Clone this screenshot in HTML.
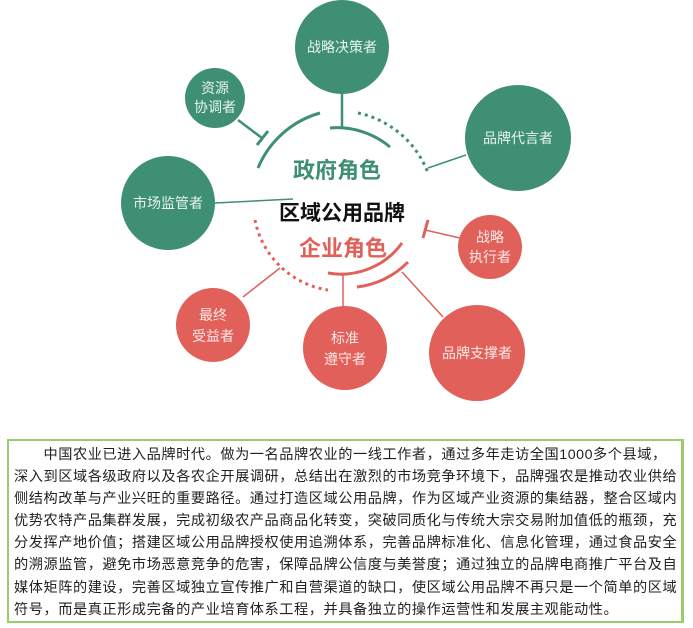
<!DOCTYPE html>
<html><head><meta charset="utf-8"><style>
html,body{margin:0;padding:0;background:#fff;width:693px;height:628px;overflow:hidden;position:relative;font-family:"Liberation Sans","Noto Sans CJK SC",sans-serif;}
svg{position:absolute;left:0;top:0}
.box{position:absolute;left:7px;top:439px;width:677px;height:184px;border:2px solid #9ccc6a;border-right-width:3px;box-sizing:border-box;}
.txt{position:absolute;left:14px;top:444px;font-size:14.2px;letter-spacing:0.55px;line-height:22.1px;color:#222;white-space:nowrap;}
</style></head><body>
<svg width="693" height="430" viewBox="0 0 693 430" font-family="Liberation Sans, Noto Sans CJK SC, sans-serif">
<g stroke="#3f8f74" stroke-width="2.5" fill="none">
<line x1="342" y1="94" x2="342" y2="128"/>
<line x1="238" y1="120" x2="262" y2="138"/>
<line x1="257" y1="145" x2="268" y2="131" stroke-width="3"/>
<line x1="215" y1="203" x2="293" y2="199" stroke-width="1.5"/>
<line x1="466" y1="155" x2="428" y2="168" stroke-width="1.5"/>
<path d="M258,168 A95,95 0 0 1 320,113" stroke-width="3"/>
<path d="M330,128 A82,82 0 0 1 390,147" stroke-width="3"/>
<path d="M358,113 A96,96 0 0 1 428,173" stroke-width="3" stroke-dasharray="3,4"/>
</g>
<g stroke="#e2605a" stroke-width="2.5" fill="none">
<line x1="460" y1="238" x2="425" y2="230" stroke-width="1.5"/>
<line x1="428" y1="220" x2="423" y2="238" stroke-width="3"/>
<line x1="243" y1="297" x2="280" y2="268" stroke-width="1.5"/>
<line x1="343" y1="310" x2="343" y2="273" stroke-width="1.5"/>
<line x1="443" y1="317" x2="402" y2="272" stroke-width="1.5"/>
<path d="M255,220 A88,88 0 0 0 328,290" stroke-width="3" stroke-dasharray="3,4"/>
<path d="M328,273 A75,75 0 0 0 402,243" stroke-width="3"/>
<path d="M357,287 A85,85 0 0 0 408,262" stroke-width="3"/>
</g>
<g fill="#3f8f74">
<circle cx="342" cy="47" r="47"/>
<circle cx="215" cy="98" r="30"/>
<circle cx="518" cy="138" r="53"/>
<circle cx="168" cy="203" r="47"/>
</g>
<g fill="#e2605a">
<circle cx="490" cy="247" r="32"/>
<circle cx="213" cy="325" r="37"/>
<circle cx="345" cy="348" r="42"/>
<circle cx="477" cy="353" r="48"/>
</g>
<g fill="#e8f3ee" font-size="14" text-anchor="middle">
<text x="342" y="52">战略决策者</text>
<text x="215" y="93">资源</text>
<text x="215" y="112">协调者</text>
<text x="518" y="143">品牌代言者</text>
<text x="168" y="208">市场监管者</text>
</g>
<g fill="#fbe9e8" font-size="14" text-anchor="middle">
<text x="490" y="242">战略</text>
<text x="490" y="262">执行者</text>
<text x="213" y="320">最终</text>
<text x="213" y="341">受益者</text>
<text x="345" y="343">标准</text>
<text x="345" y="364">遵守者</text>
<text x="477" y="358">品牌支撑者</text>
</g>
<text x="337" y="178" font-size="22" fill="#3f8f74" text-anchor="middle" font-weight="bold">政府角色</text>
<text x="342" y="220" font-size="21" fill="#111" text-anchor="middle" font-weight="bold">区域公用品牌</text>
<text x="343" y="256" font-size="22" fill="#e2605a" text-anchor="middle" font-weight="bold">企业角色</text>
</svg>
<div class="box"></div>
<div class="txt">　　中国农业已进入品牌时代。做为一名品牌农业的一线工作者，通过多年走访全国1000多个县域，<br>深入到区域各级政府以及各农企开展调研，总结出在激烈的市场竞争环境下，品牌强农是推动农业供给<br>侧结构改革与产业兴旺的重要路径。通过打造区域公用品牌，作为区域产业资源的集结器，整合区域内<br>优势农特产品集群发展，完成初级农产品商品化转变，突破同质化与传统大宗交易附加值低的瓶颈，充<br>分发挥产地价值；搭建区域公用品牌授权使用追溯体系，完善品牌标准化、信息化管理，通过食品安全<br>的溯源监管，避免市场恶意竞争的危害，保障品牌公信度与美誉度；通过独立的品牌电商推广平台及自<br>媒体矩阵的建设，完善区域独立宣传推广和自营渠道的缺口，使区域公用品牌不再只是一个简单的区域<br>符号，而是真正形成完备的产业培育体系工程，并具备独立的操作运营性和发展主观能动性。</div>
</body></html>
